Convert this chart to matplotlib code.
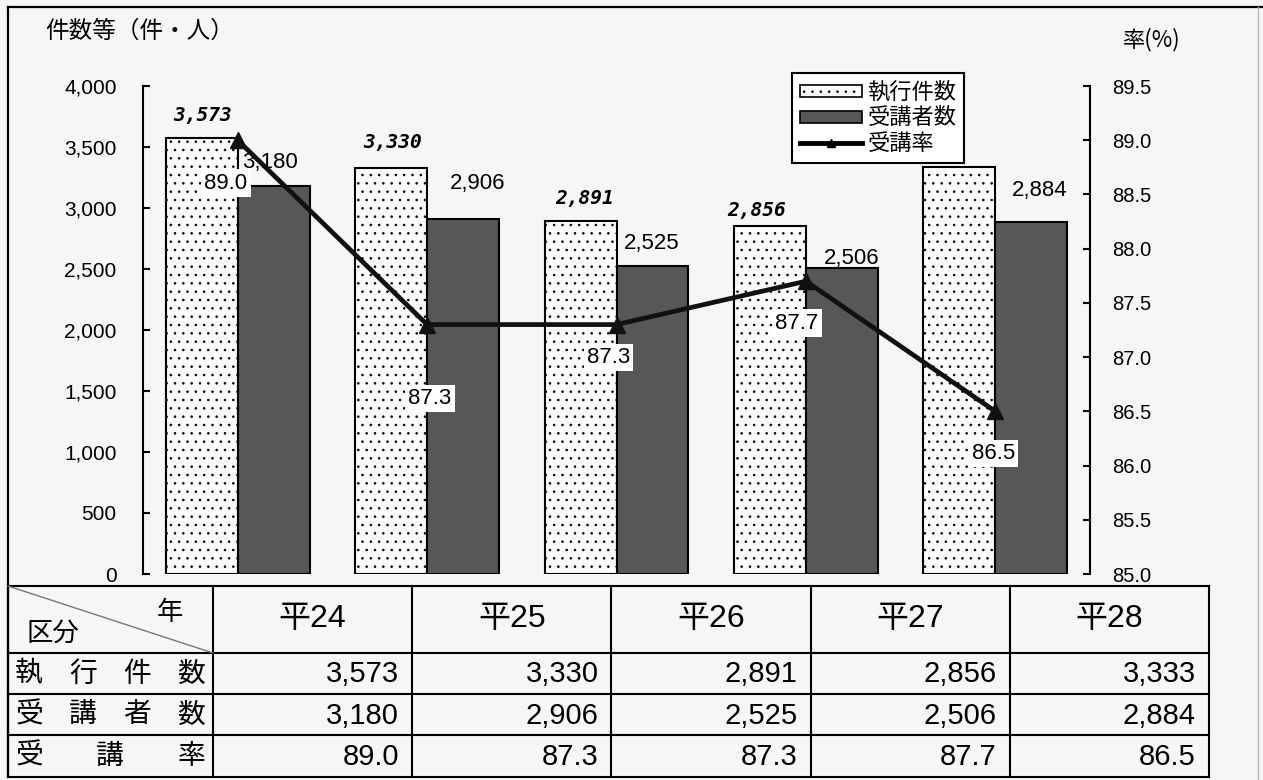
import numpy as np
import matplotlib
matplotlib.use('Agg')
import matplotlib.pyplot as plt
from matplotlib.lines import Line2D
from matplotlib.patches import Patch
from matplotlib.ticker import FuncFormatter

plt.rcParams['font.family'] = ['Liberation Sans', 'Noto Sans CJK JP']
plt.rcParams['hatch.linewidth'] = 0.6

# data
years = ['平24', '平25', '平26', '平27', '平28']
cases = [3573, 3330, 2891, 2856, 3333]
attendees = [3180, 2906, 2525, 2506, 2884]
rates = [89.0, 87.3, 87.3, 87.7, 86.5]
row_names = ['執行件数', '受講者数', '受講率']

# label offsets (pixels) -- placement only
case_off = [(1, -23), (2, -25), (4, -23), (-13, -15), None]
att_off = [(-4, -24), (15, -36), (-1, -22), (10, -10), (8, -32)]
rate_off = [(-12, 43), (3, 74), (-8, 33), (-9, 42), (-2, 42)]

COLORS = {'bg': '#f6f6f6', 'dots': '#fbfbfb', 'dark': '#575757', 'line': '#111111'}
CJK = ['Noto Sans CJK JP', 'DejaVu Sans']
PX = 0.72  # points per pixel at dpi 100

W, H = 1263, 780
fig = plt.figure(figsize=(W / 100, H / 100), dpi=100, facecolor=COLORS['bg'])

# ---- background frame + table (pixel coordinates) ----
bg = fig.add_axes([0, 0, 1, 1], zorder=0)
bg.set_xlim(0, W); bg.set_ylim(H, 0); bg.axis('off')

bg.plot([8, W], [7, 7], color='black', lw=1.6)
bg.plot([8, 8], [7, 777], color='black', lw=1.6)
bg.plot([1258, 1258], [7, H], color='#bbbbbb', lw=1.0)

tx0, tx1, hx = 8, 1209, 213
ty = [586, 653, 694, 735, 777]
cols = np.linspace(hx, tx1, len(years) + 1)
for y in ty:
    bg.plot([tx0, tx1], [y, y], color='black', lw=1.5)
for x in [tx0] + list(cols):
    bg.plot([x, x], [ty[0], ty[-1]], color='black', lw=1.5)
bg.plot([tx0, hx], [ty[0], ty[1]], color='#777777', lw=1.0)
bg.text(53, 633, '区分', fontsize=19, family=CJK, ha='center', va='center')
bg.text(170, 613, '年', fontsize=19, family=CJK, ha='center', va='center')

for i, yr in enumerate(years):
    bg.text((cols[i] + cols[i + 1]) / 2, (ty[0] + ty[1]) / 2, yr, fontsize=23,
            ha='center', va='center')

table_rows = [
    [f'{v:,}' for v in cases],
    [f'{v:,}' for v in attendees],
    [f'{v:.1f}' for v in rates],
]
for r, name in enumerate(row_names):
    yc = (ty[r + 1] + ty[r + 2]) / 2
    for cx, ch in zip(np.linspace(29, 191, len(name)), name):
        bg.text(cx, yc, ch, fontsize=20, family=CJK, ha='center', va='center')
    for i, s in enumerate(table_rows[r]):
        bg.text(cols[i + 1] - 13, yc + 1, s, fontsize=21, ha='right', va='center')

bg.text(45, 31, '件数等（件・人）', fontsize=17, family=CJK, ha='left', va='center')
bg.text(1123, 40, '率(%)', fontsize=16, family=CJK, ha='left', va='center')

# ---- main chart ----
L, R, T, B = 143, 1090, 86, 574
ax = fig.add_axes([L / W, 1 - B / H, (R - L) / W, (B - T) / H], zorder=2)
ax.patch.set_alpha(0)
x = np.arange(len(years))
bw = 0.38

ax.bar(x - bw / 2, cases, bw, facecolor=COLORS['dots'], edgecolor='black',
       hatch='..', linewidth=1.5, zorder=2)
ax.bar(x + bw / 2, attendees, bw, facecolor=COLORS['dark'], edgecolor='black',
       linewidth=1.5, zorder=2)
ax.set_xlim(-0.5, len(years) - 0.5)
ax.set_ylim(0, 4000)
ax.set_yticks(range(0, 4001, 500))
ax.yaxis.set_major_formatter(FuncFormatter(lambda v, p: f'{int(v):,}'))
ax.set_xticks([])
for s in ['top', 'bottom', 'right']:
    ax.spines[s].set_visible(False)
ax.spines['left'].set_linewidth(1.5)
ax.tick_params(axis='y', direction='in', length=5, width=1.5, pad=19, labelsize=15)

for i, v in enumerate(cases):
    if case_off[i] is None:
        continue
    dx, dy = case_off[i]
    ax.annotate(f'{v:,}', (x[i] - bw / 2, v), xytext=(dx * PX, -dy * PX),
                textcoords='offset points', ha='center', va='center',
                fontsize=14, family='DejaVu Sans Mono', fontweight='bold',
                fontstyle='italic')
for i, v in enumerate(attendees):
    dx, dy = att_off[i]
    ax.annotate(f'{v:,}', (x[i] + bw / 2, v), xytext=(dx * PX, -dy * PX),
                textcoords='offset points', ha='center', va='center', fontsize=16)

ax2 = ax.twinx()
ax2.plot(x, rates, color=COLORS['line'], lw=3.4, marker='^', markersize=11,
         zorder=3)
ax2.set_ylim(85, 89.5)
ax2.set_yticks(np.arange(85, 89.51, 0.5))
ax2.yaxis.set_major_formatter(FuncFormatter(lambda v, p: f'{v:.1f}'))
for s in ['top', 'bottom', 'left']:
    ax2.spines[s].set_visible(False)
ax2.spines['right'].set_linewidth(1.5)
ax2.tick_params(axis='y', direction='in', length=5, width=1.5, pad=16, labelsize=14.5)

for i, v in enumerate(rates):
    dx, dy = rate_off[i]
    ax2.annotate(f'{v:.1f}', (x[i], v), xytext=(dx * PX, -dy * PX),
                 textcoords='offset points', ha='center', va='center', fontsize=16,
                 bbox=dict(boxstyle='square,pad=0.15', fc='white', ec='none'), zorder=5)

handles = [
    Patch(facecolor=COLORS['dots'], edgecolor='black', hatch='..', linewidth=1.2),
    Patch(facecolor=COLORS['dark'], edgecolor='black', linewidth=1.2),
    Line2D([], [], color='black', lw=3.5, marker='^', markersize=6),
]
leg = fig.legend(handles, row_names, loc='upper left',
                 bbox_to_anchor=(792 / W, 1 - 73 / H), bbox_transform=fig.transFigure,
                 frameon=True, fancybox=False, edgecolor='black', facecolor='white',
                 framealpha=1, prop={'family': CJK, 'size': 16}, handlelength=2.8,
                 handleheight=0.45, labelspacing=0.12, borderpad=0.35,
                 handletextpad=0.25, borderaxespad=0)
leg.get_frame().set_linewidth(1.5)
leg.set_zorder(6)

fig.savefig('out.png', dpi=100, facecolor=fig.get_facecolor())
